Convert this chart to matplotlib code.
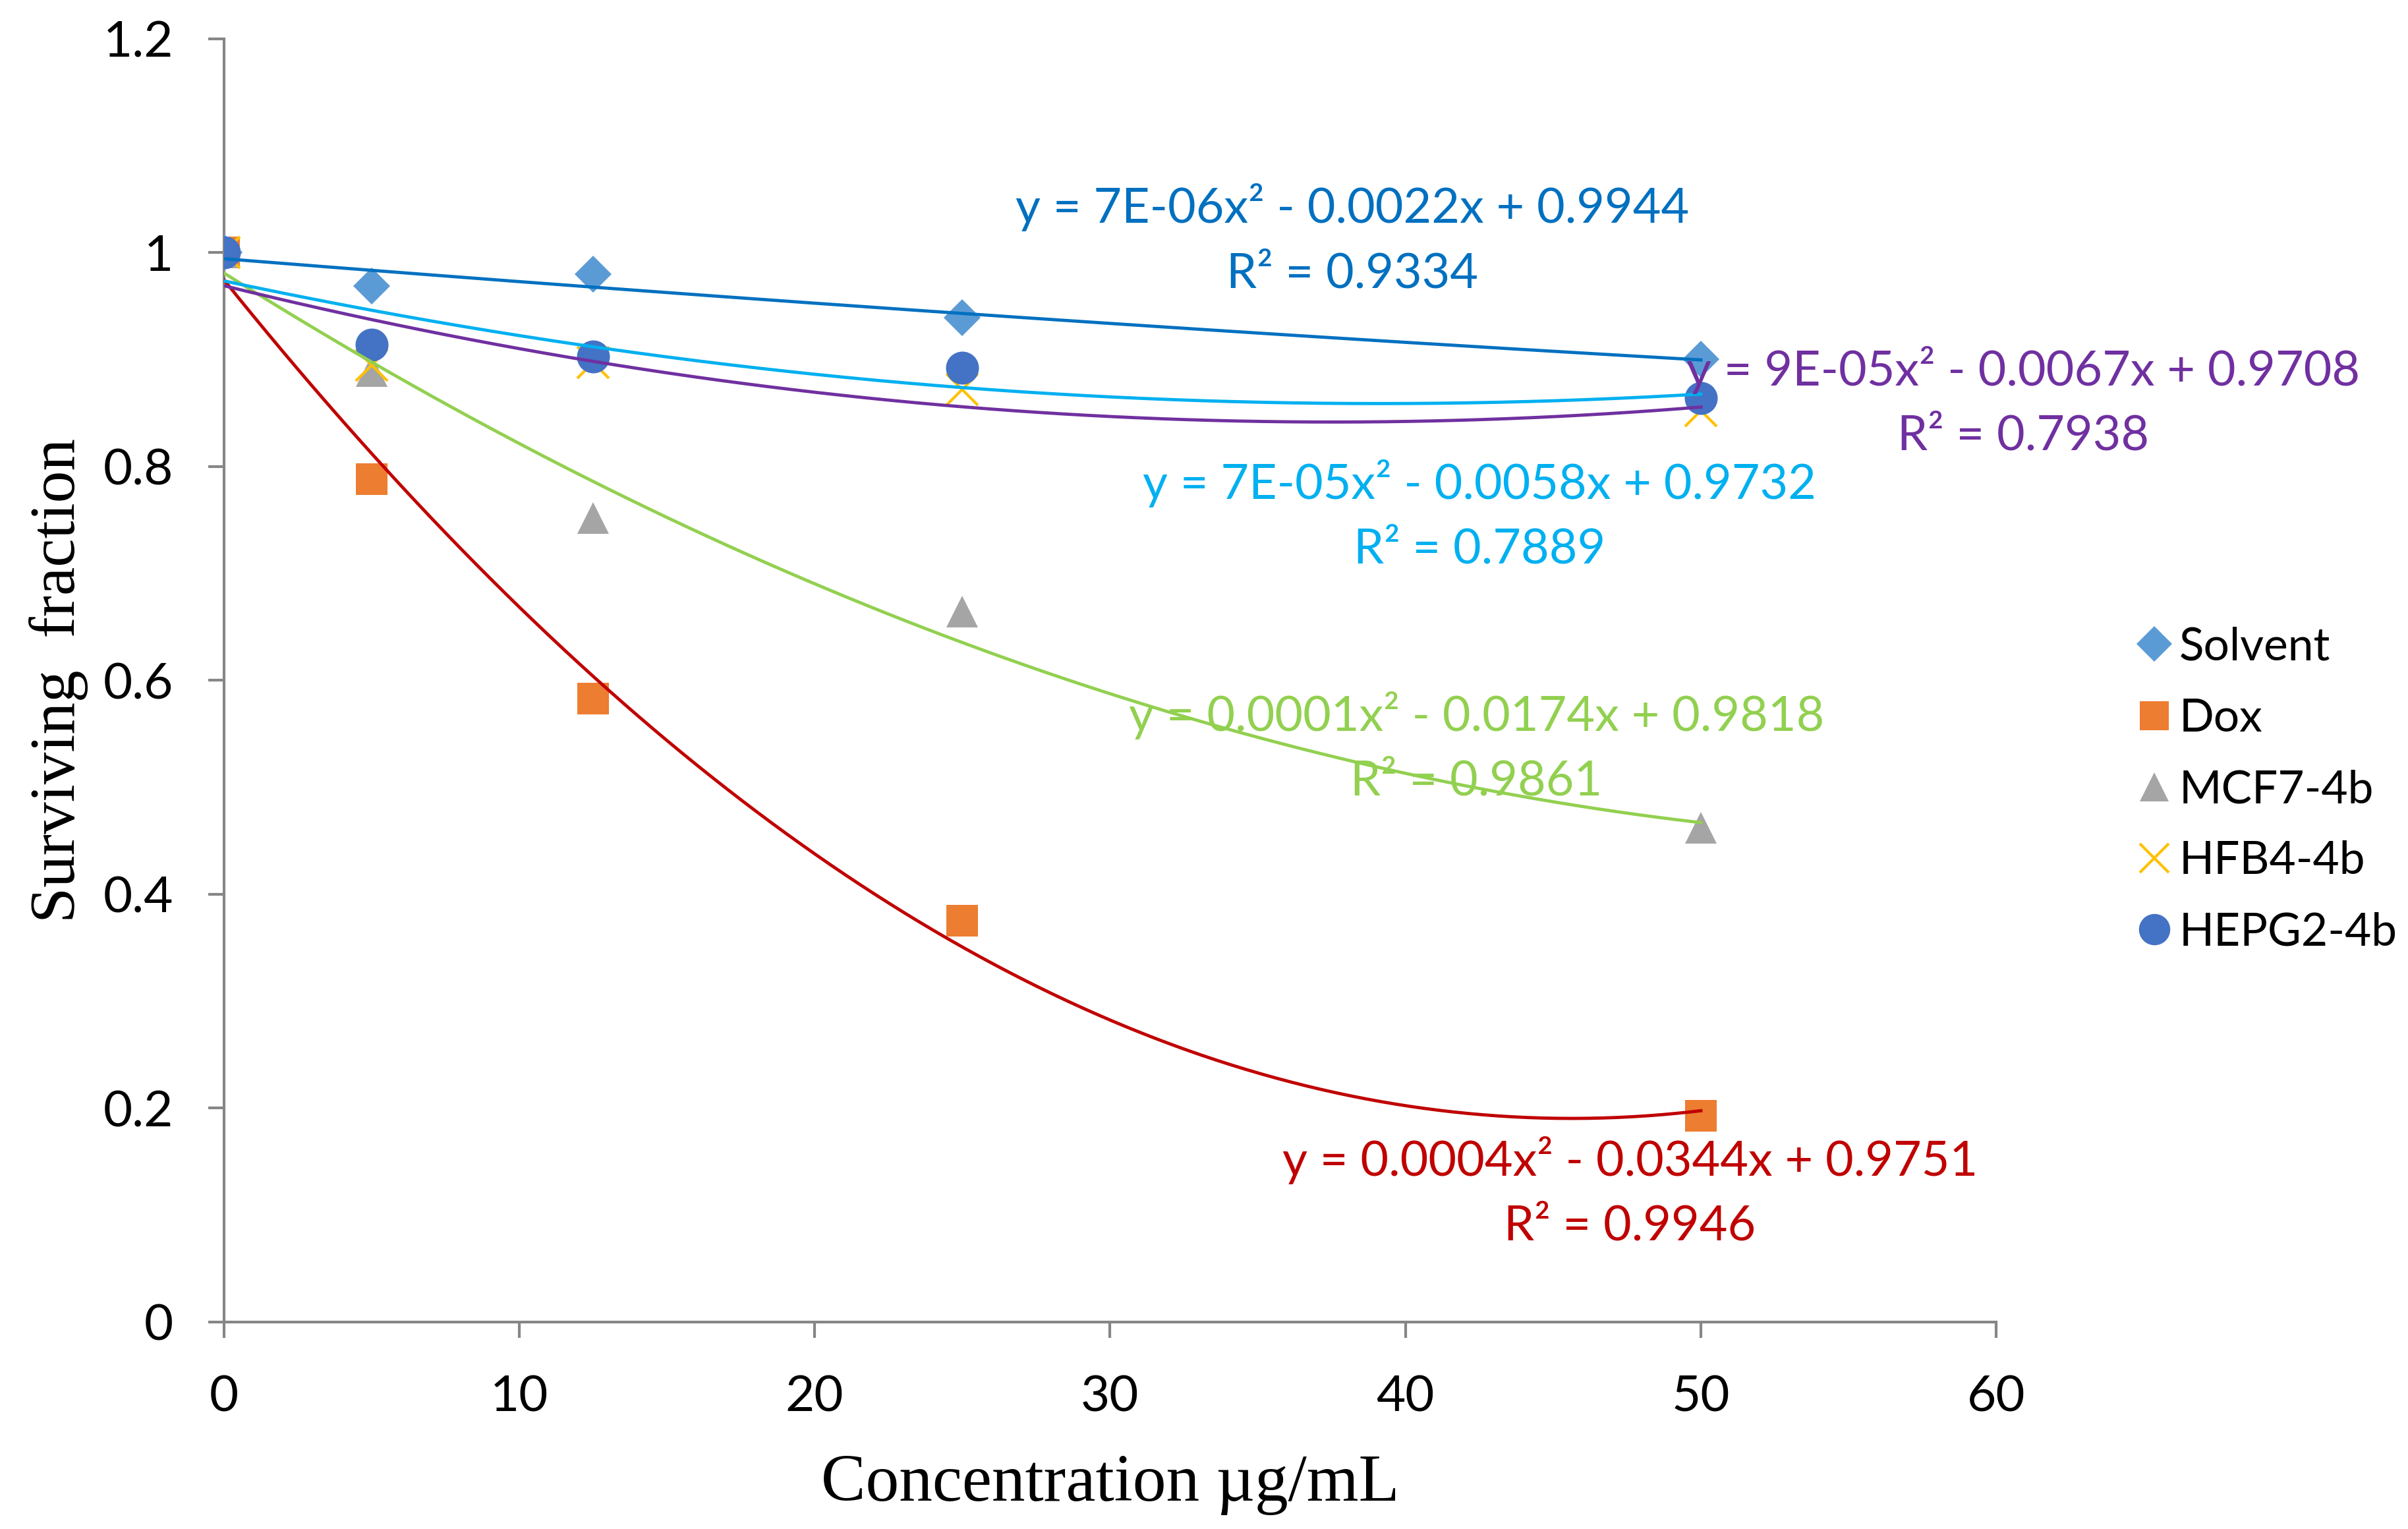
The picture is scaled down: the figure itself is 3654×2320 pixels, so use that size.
import matplotlib
matplotlib.use('Agg')
import matplotlib.pyplot as plt
import numpy as np

plt.rcParams['font.family'] = ['Lato', 'DejaVu Sans']

# data
conc = [0, 5, 12.5, 25, 50]
solvent = [1.0, 0.969, 0.980, 0.939, 0.900]
dox = [1.0, 0.788, 0.583, 0.375, 0.193]
mcf7 = [1.0, 0.889, 0.752, 0.664, 0.462]
hfb4 = [1.0, 0.895, 0.897, 0.872, 0.852]
hepg2 = [1.0, 0.914, 0.903, 0.892, 0.864]

names = ['Solvent', 'Dox', 'MCF7-4b', 'HFB4-4b', 'HEPG2-4b']
series = [solvent, dox, mcf7, hfb4, hepg2]
markers = ['D', 's', '^', 'x', 'o']
msizes = [29, 34, 34, 34, 36]
mcolors = ['#5B9BD5', '#ED7D31', '#A5A5A5', '#FFC000', '#4472C4']
tcolors = ['#0070C0', '#C00000', '#92D050', '#7030A0', '#00B0F0']

eq_text = ['y = 7E-06x² - 0.0022x + 0.9944\nR² = 0.9334',
           'y = 0.0004x² - 0.0344x + 0.9751\nR² = 0.9946',
           'y = 0.0001x² - 0.0174x + 0.9818\nR² = 0.9861',
           'y = 9E-05x² - 0.0067x + 0.9708\nR² = 0.7938',
           'y = 7E-05x² - 0.0058x + 0.9732\nR² = 0.7889']
eq_x = [38.2, 47.6, 42.4, 60.9, 42.5]
eq_y = [1.012, 0.121, 0.537, 0.860, 0.754]

fig = plt.figure(figsize=(36.55, 23.2), dpi=100)
ax = fig.add_axes([0.0929, 0.1354, 0.7359, 0.8393])

for i in range(len(series)):
    if markers[i] == 'x':
        ax.plot(conc, series[i], linestyle='none', marker='x', markersize=msizes[i],
                markeredgecolor=mcolors[i], markeredgewidth=3, label=names[i], zorder=3)
    else:
        ax.plot(conc, series[i], linestyle='none', marker=markers[i], markersize=msizes[i],
                color=mcolors[i], markeredgewidth=0, label=names[i], zorder=3)

# quadratic trendlines
xs = np.linspace(0, 50, 300)
for i in range(len(series)):
    p = np.polyfit(conc, series[i], 2)
    ax.plot(xs, np.polyval(p, xs), color=tcolors[i], linewidth=3.5, zorder=4)
    ax.text(eq_x[i], eq_y[i], eq_text[i], color=tcolors[i], fontsize=53,
            ha='center', va='center', linespacing=1.57, zorder=5)

ax.set_xlim(0, 60)
ax.set_ylim(0, 1.2)
ax.set_xticks(np.arange(0, 61, 10))
ax.set_yticks([0, 0.2, 0.4, 0.6, 0.8, 1.0, 1.2])
ax.set_yticklabels(['0', '0.2', '0.4', '0.6', '0.8', '1', '1.2'])

for s in ['top', 'right']:
    ax.spines[s].set_visible(False)
for s in ['left', 'bottom']:
    ax.spines[s].set_color('#868686')
    ax.spines[s].set_linewidth(3)
ax.tick_params(direction='out', length=17, width=3, color='#868686', labelsize=55)
ax.tick_params(axis='x', pad=40)
ax.tick_params(axis='y', pad=38)

ax.set_xlabel('Concentration µg/mL', fontfamily='Liberation Serif', fontsize=73, labelpad=38)
ax.set_ylabel('Surviving  fraction', fontfamily='Liberation Serif', fontsize=70, labelpad=16)

ax.legend(loc='center left', bbox_to_anchor=(0.871, 0.4834), bbox_transform=fig.transFigure,
          frameon=False, fontsize=50, handlelength=0.66, handletextpad=0.22,
          labelspacing=0.65, markerscale=0.95)

fig.savefig('out.png', dpi=100)
